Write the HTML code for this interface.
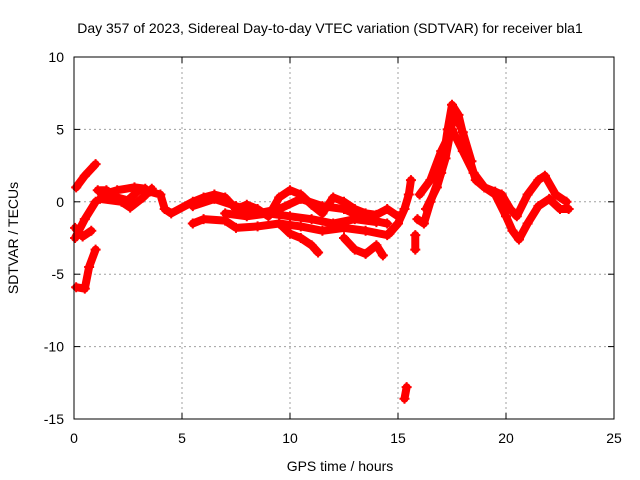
<!DOCTYPE html>
<html><head><meta charset="utf-8"><style>
body{margin:0;background:#fff}
svg{display:block;font-family:"Liberation Sans",sans-serif;font-size:14px}
</style></head><body>
<svg id="chart" width="640" height="480">
<rect x="0" y="0" width="640" height="480" fill="#fff"/>
<text x="330" y="33" text-anchor="middle">Day 357 of 2023, Sidereal Day-to-day VTEC variation (SDTVAR) for receiver bla1</text>
<text x="340" y="471" text-anchor="middle">GPS time / hours</text>
<text transform="translate(18,238) rotate(-90)" text-anchor="middle">SDTVAR / TECUs</text>
<g id="grid"></g><g id="marks"></g><g id="axes"></g>
</svg>
<script>
const xTicks=[0,5,10,15,20,25];
const yTicks=[-15,-10,-5,0,5,10];
const trackA=[[0.1,1],[0.5,1.8],[1.0,2.6]];
const trackB=[[0.05,-2.5],[0.5,-1.2],[1.0,0]];
const trackC=[[0.05,-1.8],[0.4,-2.4],[0.8,-2.0]];
const trackD=[[0.1,-5.9],[0.5,-6.0],[0.7,-4.5],[1.0,-3.3]];
const trackUpper=[[1.1,0.8],[1.5,0.8],[2,0.3],[2.5,0.1],[3,0.8],[3.5,0.7],[4,0.5],[4.2,-0.5],[4.5,-0.8],[5.5,0],[6,0.3],[6.5,0.5],[7,0.3],[7.5,-0.5],[8,-0.2],[8.5,-0.5],[9,-1],[9.5,0.3],[10,0.8],[10.5,0.5],[11,-0.2],[11.5,-0.8],[12,0.3],[12.5,0],[13,-0.5],[13.5,-0.8],[14,-0.9],[14.5,-0.5],[15,-1]];
const trackLoop=[[1.2,0.2],[2.2,0.0],[2.6,-0.4],[3.2,0.3],[3.6,0.9]];
const trackLoop2=[[1.3,0.5],[2.0,0.8],[2.8,1.0],[3.3,0.9]];
const trackMain2=[[5.5,-0.3],[6.5,0.2],[7.5,-0.3],[8.5,-0.8],[9.5,-0.5],[10.5,0.2],[11.5,-0.3],[12.5,-0.5],[13.5,-1.2],[14.5,-1.5]];
const trackLower=[[5.5,-1.5],[6,-1.2],[7,-1.3],[7.5,-1.8],[8.5,-1.7],[9.5,-1.5],[10.5,-1.7],[11.5,-2],[12.5,-1.8],[13.5,-2],[14.5,-2.3],[15,-1.5]];
const trackMid=[[7,-0.8],[8,-1.0],[9,-0.8],[10,-1.0],[11,-1.2],[12,-1.5],[13,-1.2],[14,-1.4]];
const trackDip1=[[9.5,-1.5],[10,-2.2],[10.5,-2.5],[11,-3],[11.3,-3.5]];
const trackDip2=[[12.5,-2.5],[13,-3.3],[13.5,-3.6],[14,-3],[14.3,-3.7]];
const trackRise=[[14.6,-2.2],[15,-1.5],[15.3,-0.5],[15.5,0.5],[15.6,1.5]];
const trackPeak1=[[15.9,-1.2],[16.2,-1.5],[16.5,0],[17,2],[17.3,5],[17.5,6.7],[17.8,6],[18.2,3.5],[18.6,1.5],[19,1],[19.5,0.5],[20,-1],[20.3,-2],[20.6,-2.6],[21,-1.5],[21.5,-0.3],[22,0.2],[22.5,-0.5],[22.9,-0.5]];
const trackPeak2=[[16,0.5],[16.5,1.5],[17,3.5],[17.5,5],[18,3.5],[18.5,2],[19,1],[19.5,0.7],[19.8,0.5],[20.2,-0.5],[20.5,-1],[21,0.5],[21.5,1.5],[21.8,1.8],[22.3,0.5],[22.8,0]];
const trackPeak3=[[16.3,-0.5],[16.8,1.0],[17.2,3.0],[17.6,6.2],[18.0,4.8],[18.4,2.8]];
const trackSpike=[[15.8,-2.3],[15.8,-3.3]];
const trackOutlier=[[15.3,-13.6],[15.4,-12.8]];
const tracks=[trackA,trackB,trackC,trackD,trackUpper,trackLoop,trackLoop2,trackMain2,trackLower,trackMid,trackDip1,trackDip2,trackRise,trackPeak1,trackPeak2,trackPeak3,trackSpike,trackOutlier];
const X0=74,X1=614,Y0=419,Y1=57;
function xs(h){return X0+(h-0)/25*(X1-X0);}
function ys(v){return Y0-(v+15)/25*(Y0-Y1);}
const NS="http://www.w3.org/2000/svg";
const grid=document.getElementById('grid'),marks=document.getElementById('marks'),axes=document.getElementById('axes');
function mk(tag,attrs,parent){const e=document.createElementNS(NS,tag);for(const k in attrs)e.setAttribute(k,attrs[k]);parent.appendChild(e);return e;}
xTicks.forEach(t=>{
 if(t>0&&t<25){const l=mk('line',{x1:xs(t),x2:xs(t),y1:Y1,y2:Y0,stroke:'#a0a0a0','stroke-dasharray':'2,3'},grid);
 
 }
 const tl=mk('text',{x:xs(t),y:Y0+24,'text-anchor':'middle'},axes);tl.textContent=t;
 
 
 mk('line',{x1:xs(t),x2:xs(t),y1:Y0,y2:Y0-6,stroke:'#000'},axes);
 mk('line',{x1:xs(t),x2:xs(t),y1:Y1,y2:Y1+6,stroke:'#000'},axes);
});
yTicks.forEach(t=>{
 if(t>-15&&t<10){const l=mk('line',{x1:X0,x2:X1,y1:ys(t),y2:ys(t),stroke:'#a0a0a0','stroke-dasharray':'2,3'},grid);
 
 }
 const tl=mk('text',{x:X0-10,y:ys(t)+5,'text-anchor':'end'},axes);tl.textContent=t;
 
 
 mk('line',{x1:X0,x2:X0+6,y1:ys(t),y2:ys(t),stroke:'#000'},axes);
 mk('line',{x1:X1,x2:X1-6,y1:ys(t),y2:ys(t),stroke:'#000'},axes);
});
const frame=mk('rect',{x:X0,y:Y1,width:X1-X0,height:Y0-Y1,fill:'none',stroke:'#000'},axes);


tracks.forEach(tr=>{
 const pl=mk('polyline',{points:tr.map(p=>xs(p[0])+','+ys(p[1])).join(' '),fill:'none',stroke:'#f00','stroke-width':8,'stroke-linejoin':'round','stroke-linecap':'round'},marks);
 
 
 tr.forEach(p=>{
  const x=xs(p[0]),y=ys(p[1]);
  const m=mk('path',{d:`M${x-5},${y}h10M${x},${y-5}v10`,stroke:'#f00','stroke-width':2},marks);
  
  
 });
});
</script>
</body></html>
